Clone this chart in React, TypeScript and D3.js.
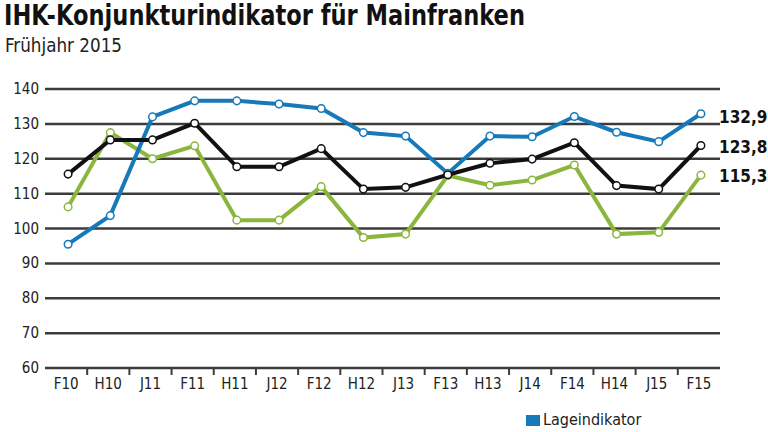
import React from "react";
import * as d3 from "d3";

const categories = ["F10","H10","J11","F11","H11","J12","F12","H12","J13","F13","H13","J14","F14","H14","J15","F15"];
const lageValues = [95.5,103.7,132.0,136.6,136.6,135.7,134.4,127.5,126.5,115.8,126.5,126.3,132.1,127.6,124.9,132.9];
const konjunkturValues = [115.6,125.4,125.4,130.2,117.7,117.7,122.9,111.3,111.8,115.4,118.7,119.9,124.6,112.3,111.3,123.8];
const erwartungValues = [106.2,127.5,120.0,123.7,102.4,102.4,112.0,97.4,98.4,115.2,112.4,113.9,118.2,98.4,98.9,115.3];
const yTicks = [60,70,80,90,100,110,120,130,140];
const endLabels = ["132,9","123,8","115,3"];

const W = 768, H = 432;
const left = 45, right = 720, top = 89, bottom = 368;
const font = "'Liberation Sans Narrow','DejaVu Sans Condensed','Open Sans',sans-serif";

export default function App() {
  const x = d3.scaleBand<string>().domain(categories).range([left, right]).padding(0);
  const y = d3.scaleLinear().domain([60, 140]).range([bottom, top]);
  const cx = (c: string) => (x(c) as number) + x.bandwidth() / 2 + 2;
  const line = d3.line<number>().x((_, i) => cx(categories[i])).y((v) => y(v));
  const series = [
    { values: erwartungValues, color: "#8ab63e" },
    { values: lageValues, color: "#1779ba" },
    { values: konjunkturValues, color: "#111111" },
  ];
  const endY = [117, 147, 176];
  return (
    <svg width={W} height={H} style={{ position: "absolute", left: 0, top: 0, background: "#fff" }}>
      <text x={4} y={25} fontFamily={font} fontWeight="bold" fontSize={28} fill="#111" textLength={521} lengthAdjust="spacingAndGlyphs">IHK-Konjunkturindikator für Mainfranken</text>
      <text x={5} y={52} fontFamily={font} fontSize={20} fill="#222" textLength={117} lengthAdjust="spacingAndGlyphs">Frühjahr 2015</text>
      {yTicks.map((t) => (
        <g key={t}>
          <line x1={left} x2={right} y1={y(t)} y2={y(t)} stroke="#3c3c3c" strokeWidth={2.5} />
          <text x={39} y={y(t) + 5} textAnchor="end" fontFamily={font} fontSize={15} fill="#222">{t}</text>
        </g>
      ))}
      {categories.map((c, i) => (
        <g key={c}>
          {i > 0 && <line x1={x(c)} x2={x(c)} y1={bottom} y2={bottom + 7} stroke="#3c3c3c" strokeWidth={2} />}
          <text x={(x(c) as number) + x.bandwidth() / 2} y={bottom + 21} textAnchor="middle" fontFamily={font} fontSize={15} fill="#222">{c}</text>
        </g>
      ))}
      {series.map((s, si) => (
        <g key={si}>
          <path d={line(s.values) || ""} fill="none" stroke={s.color} strokeWidth={4} strokeLinejoin="miter" />
          {s.values.map((v, i) => (
            <circle key={i} cx={cx(categories[i])} cy={y(v)} r={3.8} fill="#fff" stroke={s.color} strokeWidth={1.5} />
          ))}
        </g>
      ))}
      {endLabels.map((l, i) => (
        <text key={l} x={719} y={endY[i] + 6} fontFamily={font} fontWeight="bold" fontSize={17} fill="#111">{l}</text>
      ))}
      <rect x={526} y={415} width={14} height={11} fill="#1779ba" />
      <text x={543} y={425} fontFamily={font} fontSize={16} fill="#222">Lageindikator</text>
    </svg>
  );
}
